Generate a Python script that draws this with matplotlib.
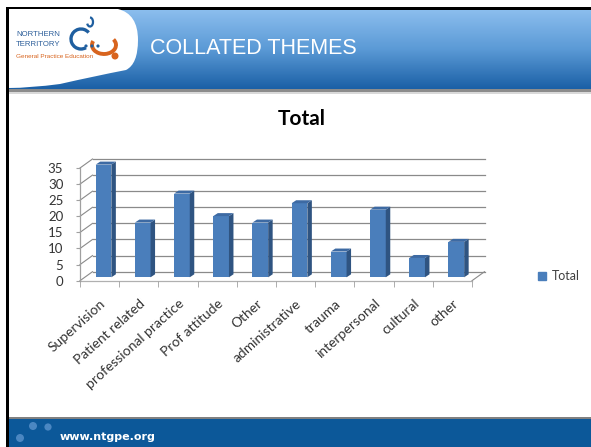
import numpy as np
import matplotlib
matplotlib.use('Agg')
import matplotlib.pyplot as plt
from matplotlib.patches import Polygon, Rectangle, Circle, Arc, PathPatch
from matplotlib.path import Path
from matplotlib.colors import LinearSegmentedColormap

# data
categories = ['Supervision', 'Patient related', 'professional practice', 'Prof attitude',
              'Other', 'administrative', 'trauma', 'interpersonal', 'cultural', 'other']
totals = [35, 17, 26, 19, 17, 23, 8, 21, 6, 11]
y_ticks = [0, 5, 10, 15, 20, 25, 30, 35]
series_name = 'Total'

W, H = 591, 447
fig = plt.figure(figsize=(W / 100, H / 100), dpi=100)
fig.patch.set_facecolor('white')

# ---- slide decoration, pixel coordinates
bg = fig.add_axes([0, 0, 1, 1])
bg.axis('off')
grad = np.linspace(0, 1, 100).reshape(-1, 1)
hdr_cmap = LinearSegmentedColormap.from_list('hdr', ['#8cbeee', '#5b9ad6', '#1b60a6'])
bg.imshow(grad, extent=(9, W, 89, 9), cmap=hdr_cmap, aspect='auto', zorder=0)
bg.set_xlim(0, W)
bg.set_ylim(H, 0)
bg.add_patch(Rectangle((9, 89), W, 3, color='#8c8c8c', lw=0))
bg.add_patch(Rectangle((9, 92), W, 1.5, color='#d9d9d9', lw=0))
bg.add_patch(Rectangle((6, 6.5), W, 3, color='black', lw=0))
bg.add_patch(Rectangle((9, 416.5), W, 2.5, color='#808080', lw=0))
bg.add_patch(Rectangle((9, 419), W, 28, color='#0c5899', lw=0))
bg.add_patch(Rectangle((6, 6.5), 3, H, color='black', lw=0, zorder=5))

# logo blob
verts = [(9, 9), (118, 9), (138, 14), (138, 40), (138, 64), (126, 70),
         (95, 76), (60, 84), (30, 88), (9, 88), (9, 9)]
codes = [Path.MOVETO, Path.LINETO, Path.CURVE3, Path.CURVE3, Path.CURVE3, Path.CURVE3,
         Path.CURVE3, Path.CURVE3, Path.CURVE3, Path.LINETO, Path.CLOSEPOLY]
bg.add_patch(PathPatch(Path(verts, codes), facecolor='white', edgecolor='none', zorder=2))
bg.text(16, 35, 'NORTHERN', fontsize=5.6, color='#2d5f9a', va='center', family='Liberation Sans', zorder=3)
bg.text(16, 45, 'TERRITORY', fontsize=5.6, color='#2d5f9a', va='center', family='Liberation Sans', zorder=3)
bg.text(16, 56, 'General Practice Education', fontsize=4.6, color='#d8641e', va='center',
        family='Liberation Sans', zorder=3)
bg.add_patch(Arc((81, 39), 20, 20, theta1=60, theta2=320, color='#1f5fa0', lw=2.4, zorder=3))
bg.add_patch(Arc((90, 22), 6, 9, theta1=-90, theta2=150, color='#1f5fa0', lw=1.6, zorder=3))
bg.add_patch(Arc((104, 45), 24, 18, theta1=-30, theta2=200, color='#d8641e', lw=2.8, zorder=3))
bg.add_patch(Circle((115, 56), 2.8, color='#d8641e', zorder=3))
for cx in (86, 92, 98):
    bg.add_patch(Circle((cx, 46), 0.9, color='#1f5fa0', zorder=3))
bg.text(150, 48, 'COLLATED THEMES', fontsize=15.5, color='white', family='Liberation Sans',
        va='center', ha='left', zorder=3)

for cx, cy, r in [(20, 438, 4), (33, 426, 4), (48, 427, 3.6)]:
    bg.add_patch(Circle((cx, cy), r, color='#4b87c2', lw=0, zorder=3))
bg.text(60, 437, 'www.ntgpe.org', fontsize=8, color='white', fontweight='bold',
        family='DejaVu Sans', va='center', zorder=3)

bg.text(302, 119, 'Total', fontsize=15, fontweight='bold', family='Lato',
        ha='center', va='center', color='black')

# ---- chart
x0, x1, y0, y1 = 80, 472, 280.7, 168
ax = fig.add_axes([x0 / W, (H - y0) / H, (x1 - x0) / W, (y0 - y1) / H])
ax.patch.set_alpha(0)
n = len(categories)
ax.set_xlim(-0.5, n - 0.5)
ax.set_ylim(0, 35)
for s in ax.spines.values():
    s.set_visible(False)

ppx = (x1 - x0) / n          # pixels per category
ppy = (y0 - y1) / 35         # pixels per unit
wdx, wdy = 12.5 / ppx, 9 / ppy        # back wall depth
bdx, bdy = 0.1, 3.4 / ppy             # bar front face offset
sdx, sdy = 4.5 / ppx, 3 / ppy         # bar depth
bw = 0.4

grid_c = '#8a8a8a'
for v in y_ticks:
    ax.plot([-0.5 + wdx, n - 0.5 + wdx], [v + wdy, v + wdy], color=grid_c, lw=0.9, clip_on=False, zorder=1)
    ax.plot([-0.5, -0.5 + wdx], [v, v + wdy], color=grid_c, lw=0.8, clip_on=False, zorder=1)
ax.plot([n - 0.5, n - 0.5 + wdx], [0, wdy], color=grid_c, lw=0.8, clip_on=False, zorder=1)
ax.plot([-0.5, n - 0.5], [0, 0], color='#b0b0b0', lw=0.9, clip_on=False, zorder=1)
ax.plot([-0.5, -0.5], [0, 35], color='#a0a0a0', lw=0.9, clip_on=False, zorder=1)

x = np.arange(n)
front = ax.bar(x + bdx, totals, width=bw, bottom=bdy, color='#4a7ebb', zorder=3, clip_on=False)
for xi, v in zip(x, totals):
    l = xi + bdx - bw / 2
    r = xi + bdx + bw / 2
    top = v + bdy
    ax.add_patch(Polygon([(r, bdy), (r + sdx, bdy + sdy), (r + sdx, top + sdy), (r, top)],
                         closed=True, facecolor='#2f5481', edgecolor='none', zorder=3, clip_on=False))
    ax.add_patch(Polygon([(l, top), (r, top), (r + sdx, top + sdy), (l + sdx, top + sdy)],
                         closed=True, facecolor='#3d6aa3', edgecolor='none', zorder=3, clip_on=False))

ax.set_yticks(y_ticks)
ax.set_yticklabels([str(v) for v in y_ticks], family='Lato', fontsize=9.5, color='#333333')
ax.tick_params(axis='y', length=3, color='#a0a0a0', pad=9)
ax.set_xticks(x)
ax.set_xticklabels(categories, rotation=42, ha='right', va='top', rotation_mode='anchor',
                   fontsize=10, color='#333333', family='Lato')
ax.tick_params(axis='x', length=0, pad=12)
ax.set_xticks(np.arange(-0.5, n, 1), minor=True)
ax.tick_params(axis='x', which='minor', length=4, color='#a0a0a0')

handle = Rectangle((0, 0), 1, 1, color='#4a7ebb')
fig.legend([handle], [series_name], loc='center left', bbox_to_anchor=(527 / W, 1 - 276 / H),
           frameon=False, prop={'family': 'Lato', 'size': 9}, handlelength=0.6, handleheight=0.6,
           handletextpad=0.5, labelcolor='#404040')

fig.savefig('out.png', dpi=100)
